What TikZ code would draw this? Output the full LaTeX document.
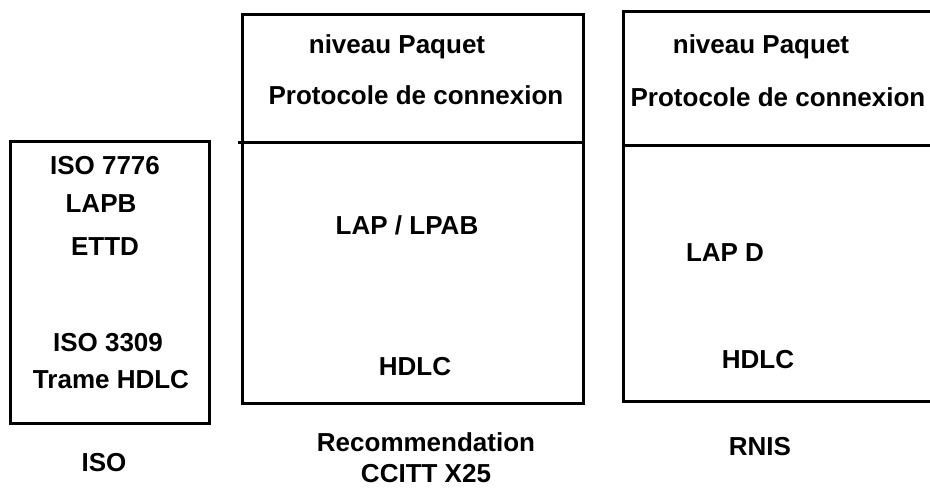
\documentclass[tikz,border=0pt]{standalone}
\usepackage{fontspec}
\setmainfont{Liberation Sans}
\usetikzlibrary{positioning}
\tikzset{
  txt/.style={font=\fontsize{26}{31}\selectfont\bfseries, inner sep=0pt},
  boite/.style={line width=3pt}
}
\begin{document}
\begin{tikzpicture}[x=1pt,y=-1pt]
    \useasboundingbox (0,0) rectangle (930,489);
    \clip (0,0) rectangle (930,489);
    % ISO
    \draw[boite] (10,142) rectangle (209,423);
    \node[txt] (iso7776) at (105,166) {ISO 7776};
    \node[txt] (lapb) at (101,204) {LAPB};
    \node[txt] (ettd) at (105,247) {ETTD};
    \node[txt] (iso3309) at (108,343) {ISO 3309};
    \node[txt] (trame) at (111,380) {Trame HDLC};
    \node[txt] (iso) at (104,463) {ISO};
    % CCITT X25
    \draw[boite] (242,15) rectangle (583,403);
    \draw[boite] (238,143) -- (583,143);
    \node[txt] (paqX) at (397,47) {niveau Paquet};
    \node[txt] (protoX) at (416,95) {Protocole de connexion};
    \node[txt] (lapX) at (407,225) {LAP / LPAB};
    \node[txt] (hdlcX) at (415,367) {HDLC};
    \node[txt,align=center] (recX) at (426,458) {Recommendation\\CCITT X25};
    % RNIS
    \draw[boite] (623,12) rectangle (945,401);
    \draw[boite] (623,146) -- (945,146);
    \node[txt] (paqR) at (761,47) {niveau Paquet};
    \node[txt] (protoR) at (778,97) {Protocole de connexion};
    \node[txt] (lapR) at (725,253) {LAP D};
    \node[txt] (hdlcR) at (758,360) {HDLC};
    \node[txt] (rnis) at (760,447) {RNIS};
\end{tikzpicture}
\end{document}
